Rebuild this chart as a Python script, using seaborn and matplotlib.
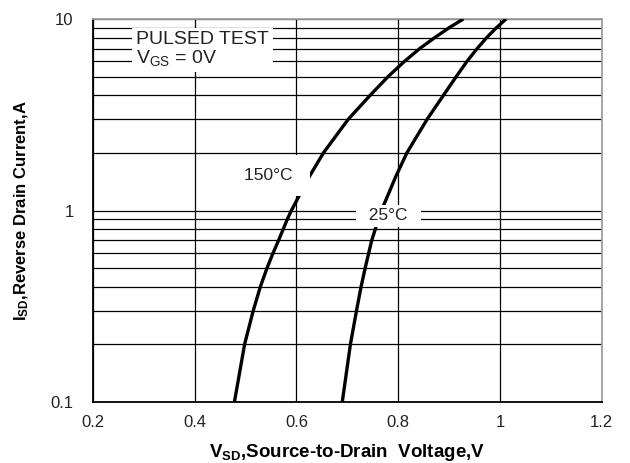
import numpy as np
import pandas as pd
import seaborn as sns
import matplotlib
matplotlib.use("Agg")
import matplotlib.pyplot as plt
from matplotlib.ticker import FixedLocator, FixedFormatter, LogLocator, NullFormatter

# ---- data ----
current_a = [0.1, 0.2, 0.3, 0.4, 0.5, 0.6, 0.7, 0.8, 0.9, 1, 1.5, 2, 3, 4, 5, 6, 7, 8, 9, 10]
vsd_150c = [0.478, 0.498, 0.515, 0.529, 0.542, 0.554, 0.565, 0.574, 0.582, 0.590, 0.625,
            0.653, 0.702, 0.745, 0.780, 0.812, 0.842, 0.872, 0.900, 0.928]
vsd_25c = [0.690, 0.706, 0.718, 0.727, 0.735, 0.742, 0.748, 0.755, 0.761, 0.767, 0.795,
           0.817, 0.857, 0.889, 0.914, 0.935, 0.955, 0.974, 0.993, 1.012]
x_ticks = [0.2, 0.4, 0.6, 0.8, 1.0, 1.2]
x_tick_labels = ["0.2", "0.4", "0.6", "0.8", "1", "1.2"]
y_ticks = [0.1, 1, 10]
y_tick_labels = ["0.1", "1", "10"]
series_names = ["150°C", "25°C"]

sns.set_theme(style="white")
plt.rcParams['font.family'] = ['Liberation Sans', 'DejaVu Sans']
plt.rcParams['mathtext.fontset'] = 'custom'
plt.rcParams['mathtext.rm'] = 'Liberation Sans'
plt.rcParams['mathtext.bf'] = 'Liberation Sans:bold'
plt.rcParams['mathtext.it'] = 'Liberation Sans:italic'

n = len(current_a)
df = pd.DataFrame({
    "V": vsd_150c + vsd_25c,
    "I": current_a + current_a,
    "T": [series_names[0]] * n + [series_names[1]] * n,
})

fig = plt.figure(figsize=(6.3, 4.63), dpi=100)
ax = fig.add_axes([0.1476, 0.1317, 0.8075, 0.8273])

sns.lineplot(data=df, x="V", y="I", hue="T", palette=["black", "black"],
             sort=False, legend=False, lw=2.4, ax=ax, zorder=3,
             solid_joinstyle="round", solid_capstyle="butt")

ax.set_yscale("log")
ax.set_xlim(0.2, 1.2)
ax.set_ylim(0.1, 10)
ax.xaxis.set_major_locator(FixedLocator(x_ticks))
ax.xaxis.set_major_formatter(FixedFormatter(x_tick_labels))
ax.yaxis.set_major_locator(FixedLocator(y_ticks))
ax.yaxis.set_major_formatter(FixedFormatter(y_tick_labels))
ax.yaxis.set_minor_locator(LogLocator(base=10, subs=range(2, 10)))
ax.yaxis.set_minor_formatter(NullFormatter())
ax.set_axisbelow(True)
ax.grid(True, which="both", axis="y", color="black", lw=0.9)
ax.grid(True, which="major", axis="x", color="black", lw=0.9)
ax.tick_params(axis="both", which="both", length=0, labelsize=12, colors="#222222")
ax.tick_params(axis="x", pad=9.5)
ax.tick_params(axis="y", pad=14)

for s in ["left", "bottom"]:
    ax.spines[s].set_color("black")
    ax.spines[s].set_linewidth(1.3)
for s in ["top", "right"]:
    ax.spines[s].set_color("#a0a0a0")
    ax.spines[s].set_linewidth(1.3)

ax.set_xlabel(r"V$_{\mathbf{SD}}$,Source-to-Drain  Voltage,V", fontsize=13.5,
              fontweight="bold", color="black", labelpad=8.5)
ax.set_ylabel(r"I$_{\mathbf{SD}}$,Reverse Drain Current,A", fontsize=12,
              fontweight="bold", color="black", labelpad=14)

ax.text(0.0846, 0.969, "PULSED TEST\nV$_{\\mathrm{GS}}$ = 0V", transform=ax.transAxes,
        ha="left", va="top", fontsize=14, color="#222222", linespacing=0.98, zorder=6,
        bbox=dict(boxstyle="square,pad=0.22", fc="white", ec="none"))
ax.text(0.5494, 1.52, series_names[0] + " ", ha="center", va="center", fontsize=12.5,
        color="#222222", zorder=6,
        bbox=dict(boxstyle="square,pad=0.75", fc="white", ec="none"))
ax.text(0.7807, 0.94, "  " + series_names[1] + "  ", ha="center", va="center", fontsize=12.5,
        color="#222222", zorder=6,
        bbox=dict(boxstyle="square,pad=0.2", fc="white", ec="none"))

fig.savefig("out.png", dpi=100)
